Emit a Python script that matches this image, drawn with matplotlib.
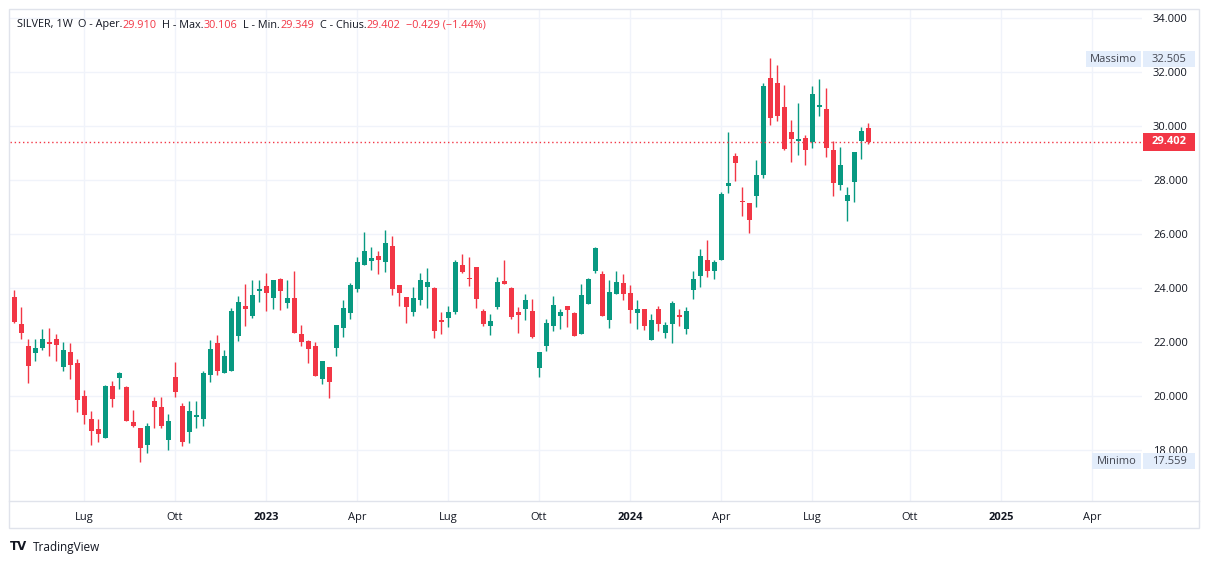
import matplotlib
matplotlib.use("Agg")
import matplotlib.pyplot as plt
import matplotlib.dates as mdates
from matplotlib.patches import Rectangle
from matplotlib.lines import Line2D
import pandas as pd
import numpy as np

# ---------------- data (weekly SILVER candles) ----------------
start_date = "2022-04-25"
opens = [23.68, 22.67, 21.85, 21.60, 21.78, 22.01, 22.11, 21.09, 21.64, 21.22,
         20.00, 19.15, 18.78, 18.46, 20.37, 20.68, 20.33, 19.04, 18.81, 18.20,
         19.81, 19.59, 18.38, 20.70, 19.63, 18.68, 19.235, 19.16, 20.79, 21.96,
         20.86, 20.94, 22.23, 23.33, 22.98, 23.89, 24.07, 23.64, 24.33, 23.44,
         23.63, 22.30, 22.04, 21.85, 20.64, 21.08, 21.79, 22.53, 23.09, 23.98,
         24.87, 25.01, 25.19, 24.96, 25.56, 24.11, 23.67, 23.12, 23.57, 24.04,
         24.00, 22.82, 22.89, 23.11, 24.85, 24.37, 24.78, 23.15, 22.59, 23.30,
         24.26, 24.00, 23.11, 23.22, 23.15, 21.04, 21.85, 22.59, 22.96, 23.33,
         23.07, 22.31, 23.42, 24.64, 24.52, 22.83, 23.79, 24.19, 23.81, 23.09,
         23.22, 22.09, 23.22, 22.35, 22.68, 23.00, 22.49, 23.94, 24.46, 25.04,
         24.64, 25.05, 27.79, 28.89, 27.22, 27.15, 27.42, 28.20, 31.78, 31.59,
         30.70, 29.78, 29.46, 29.56, 29.42, 30.72, 30.63, 29.12, 27.83, 27.24,
         27.94, 29.46, 29.910]
highs = [23.93, 23.28, 22.10, 22.11, 22.48, 22.53, 22.30, 22.01, 21.98, 21.37,
         20.22, 19.44, 19.15, 20.40, 20.57, 20.90, 20.36, 19.48, 18.83, 19.01,
         19.98, 19.98, 19.33, 21.26, 19.73, 19.81, 19.81, 20.93, 22.07, 22.26,
         21.70, 23.26, 23.70, 24.15, 24.30, 24.30, 24.56, 24.30, 24.37, 24.30,
         24.63, 22.63, 22.08, 22.00, 21.30, 21.08, 22.63, 23.56, 24.19, 25.15,
         26.08, 25.52, 25.37, 26.15, 25.93, 24.11, 23.67, 24.04, 24.56, 24.75,
         24.04, 23.11, 23.33, 25.04, 25.26, 25.15, 24.78, 23.22, 23.04, 24.41,
         25.04, 24.04, 23.30, 23.78, 23.59, 21.63, 22.85, 23.70, 23.22, 23.33,
         23.11, 24.15, 24.37, 25.52, 24.63, 24.30, 24.63, 24.52, 24.11, 23.56,
         23.22, 23.04, 23.33, 22.74, 23.52, 23.22, 23.30, 24.63, 25.44, 25.78,
         25.04, 27.55, 29.78, 29.00, 27.74, 27.15, 28.74, 31.59, 32.505, 32.26,
         31.52, 30.22, 30.85, 29.67, 31.48, 31.74, 31.41, 29.46, 29.22, 27.74,
         29.04, 29.96, 30.106]
lows = [22.72, 22.12, 20.50, 21.31, 21.70, 21.48, 21.30, 20.94, 20.63, 19.41,
        18.96, 18.20, 18.30, 18.46, 19.61, 20.27, 19.06, 18.86, 17.559, 17.89,
        18.83, 18.83, 18.01, 19.98, 18.16, 18.27, 18.83, 18.90, 20.52, 20.79,
        20.86, 20.94, 22.05, 22.60, 22.90, 23.48, 23.15, 23.22, 23.18, 23.25,
        22.32, 21.85, 21.23, 20.73, 20.46, 19.94, 21.49, 22.20, 22.87, 23.86,
        24.87, 24.67, 24.53, 24.59, 23.75, 23.33, 22.72, 22.98, 23.38, 23.26,
        22.15, 22.30, 22.56, 23.04, 24.57, 24.07, 23.26, 22.59, 22.26, 23.22,
        24.15, 22.85, 22.33, 22.82, 22.15, 20.70, 21.67, 22.41, 22.48, 22.57,
        22.23, 22.31, 23.42, 24.57, 22.97, 22.53, 23.79, 23.57, 22.72, 22.49,
        22.46, 22.09, 22.42, 22.16, 21.98, 22.61, 22.31, 23.60, 24.05, 24.42,
        24.35, 25.05, 27.53, 27.98, 26.68, 26.05, 27.01, 28.09, 30.05, 30.20,
        29.12, 28.68, 28.94, 28.57, 29.20, 30.38, 28.86, 27.42, 27.64, 26.49,
        27.20, 28.79, 29.349]
closes = [22.75, 22.35, 21.12, 21.78, 22.11, 21.94, 21.90, 21.70, 21.16, 19.85,
          19.31, 18.72, 18.59, 20.37, 19.90, 20.85, 19.09, 18.90, 18.09, 18.89,
          19.60, 18.90, 19.07, 20.16, 18.31, 19.45, 19.30, 20.85, 21.74, 20.94,
          21.48, 23.15, 23.48, 23.22, 23.74, 23.96, 23.81, 24.30, 23.89, 23.63,
          22.35, 22.01, 21.75, 20.75, 21.30, 20.53, 22.63, 23.26, 24.11, 24.96,
          25.37, 25.11, 25.04, 25.67, 23.96, 23.83, 23.30, 23.63, 24.30, 24.22,
          22.42, 22.75, 23.11, 24.96, 24.59, 24.33, 23.59, 22.67, 22.78, 24.22,
          24.15, 22.93, 23.00, 23.56, 22.19, 21.63, 22.70, 23.37, 23.11, 23.19,
          22.23, 23.74, 24.33, 25.48, 22.97, 23.85, 24.22, 23.79, 23.20, 23.22,
          22.61, 22.81, 22.68, 22.63, 23.44, 22.94, 23.15, 24.33, 25.19, 24.64,
          24.96, 27.48, 27.89, 28.64, 27.19, 26.53, 28.19, 31.48, 30.31, 30.38,
          29.16, 29.53, 29.52, 29.12, 31.19, 30.78, 29.20, 27.90, 28.56, 27.45,
          29.04, 29.831, 29.402]

price_ticks = [18, 20, 22, 24, 26, 28, 30, 32, 34]
time_tick_dates = ["2022-07-04", "2022-10-03", "2023-01-02", "2023-04-03",
                   "2023-07-03", "2023-10-02", "2024-01-01", "2024-04-01",
                   "2024-07-01", "2024-10-07", "2025-01-06", "2025-04-07"]
time_tick_labels = ["Lug", "Ott", "2023", "Apr", "Lug", "Ott", "2024", "Apr",
                    "Lug", "Ott", "2025", "Apr"]

last_price = closes[-1]
max_price = 32.505
min_price = 17.559

# ---------------- styling ----------------
GREEN = "#089981"
RED = "#F23645"
GRID = "#F0F3FA"
TEXT = "#131722"
BORDER = "#E0E3EB"
FONT = "Open Sans"

W, H = 1209, 564
fig = plt.figure(figsize=(W / 100, H / 100), dpi=100)
fig.patch.set_facecolor("white")

def fx(px):
    return px / W

def fy(py):
    return 1 - py / H

ax = fig.add_axes([fx(10), fy(501), 1132 / W, 491 / H])
ax.set_facecolor("white")

dates = pd.date_range(start_date, periods=len(opens), freq="W-MON")
x = mdates.date2num(dates)
o = np.array(opens); h = np.array(highs); l = np.array(lows); c = np.array(closes)
up = c >= o
colors = np.where(up, GREEN, RED)

ax.vlines(x, l, h, colors=colors, linewidth=1.0, zorder=3)
body_bottom = np.minimum(o, c)
body_height = np.maximum(np.abs(c - o), 0.04)
ax.bar(x, body_height, bottom=body_bottom, width=5.0, color=colors,
       linewidth=0, zorder=4)

x0 = mdates.date2num(pd.Timestamp(start_date))
ax.set_xlim(x0 - 4, x0 + 1128)
ax.set_ylim(34 - 483 / 27, 34 + 8 / 27)

# grid
tick_x = mdates.date2num(pd.to_datetime(time_tick_dates))
for p in price_ticks:
    ax.axhline(p, color=GRID, lw=1, zorder=0)
for t in tick_x:
    ax.axvline(t, color=GRID, lw=1, zorder=0)

ax.axhline(last_price, color=RED, lw=1, ls=(0, (1, 2)), zorder=5)

for s in ax.spines.values():
    s.set_visible(False)

ax.set_xticks(tick_x)
ax.set_xticklabels(time_tick_labels, fontsize=8, color=TEXT, family=FONT)
for lab, txt in zip(ax.get_xticklabels(), time_tick_labels):
    if txt.isdigit():
        lab.set_fontweight("bold")
ax.tick_params(axis="x", length=0, pad=8)

ax.set_yticks(price_ticks)
ax.set_yticklabels([f"{p:.3f}" for p in price_ticks],
                   fontsize=8, color=TEXT, family=FONT)
ax.yaxis.tick_right()
ax.tick_params(axis="y", length=0, pad=33)
for lab in ax.get_yticklabels():
    lab.set_horizontalalignment("right")

# frame
fig.add_artist(Rectangle((fx(9), fy(528)), 1190 / W, 519 / H, fill=False,
                         edgecolor=BORDER, lw=1, transform=fig.transFigure))
fig.add_artist(Line2D([fx(9), fx(1199)], [fy(501), fy(501)], color=BORDER,
                      lw=1, transform=fig.transFigure))

# price boxes
def box(x1, x2, y1, y2, fc, txt, tc, bold=False):
    fig.add_artist(Rectangle((fx(x1), fy(y2)), (x2 - x1) / W, (y2 - y1) / H,
                             facecolor=fc, edgecolor="none",
                             transform=fig.transFigure, zorder=10))
    fig.text(fx((x1 + x2) / 2), fy((y1 + y2) / 2), txt, ha="center",
             va="center", fontsize=8, color=tc, family=FONT,
             fontweight="bold" if bold else "normal", zorder=11)

LB = "#E3EDFB"
box(1143, 1195, 133, 151, RED, f"{last_price:.3f}", "white", bold=True)
box(1086, 1141, 51, 67, LB, "Massimo", "#434651")
box(1143, 1195, 51, 67, LB, f"{max_price:.3f}", "#434651")
box(1092, 1141, 453, 469, LB, "Minimo", "#434651")
box(1143, 1195, 453, 469, LB, f"{min_price:.3f}", "#434651")

# header legend, laid out sequentially
chg = closes[-1] - closes[-2]
pct = chg / closes[-2] * 100
pieces = [
    ("SILVER, 1W", TEXT, 5),
    ("O - Aper.", TEXT, 0),
    (f"{opens[-1]:.3f}", RED, 6),
    ("H - Max.", TEXT, 0),
    (f"{highs[-1]:.3f}", RED, 6),
    ("L - Min.", TEXT, 0),
    (f"{lows[-1]:.3f}", RED, 6),
    ("C - Chius.", TEXT, 0),
    (f"{closes[-1]:.3f}", RED, 6),
    (f"\u2212{abs(chg):.3f} (\u2212{abs(pct):.2f}%)", RED, 0),
]
fig.canvas.draw()
renderer = fig.canvas.get_renderer()
cur = 17.0
yh = fy(25)
for txt, col, gap in pieces:
    t = fig.text(fx(cur), yh, txt, ha="left", va="center", fontsize=7.8,
                 color=col, family=FONT)
    bb = t.get_window_extent(renderer=renderer)
    cur += bb.width + gap

# TradingView branding
fig.text(fx(10), fy(547), "TV", ha="left", va="center", fontsize=8.5,
         fontweight="heavy", color=TEXT, family="DejaVu Sans")
fig.text(fx(33), fy(547), "TradingView", ha="left", va="center",
         fontsize=8.5, color=TEXT, family=FONT)

fig.savefig("out.png", dpi=100, facecolor="white")
